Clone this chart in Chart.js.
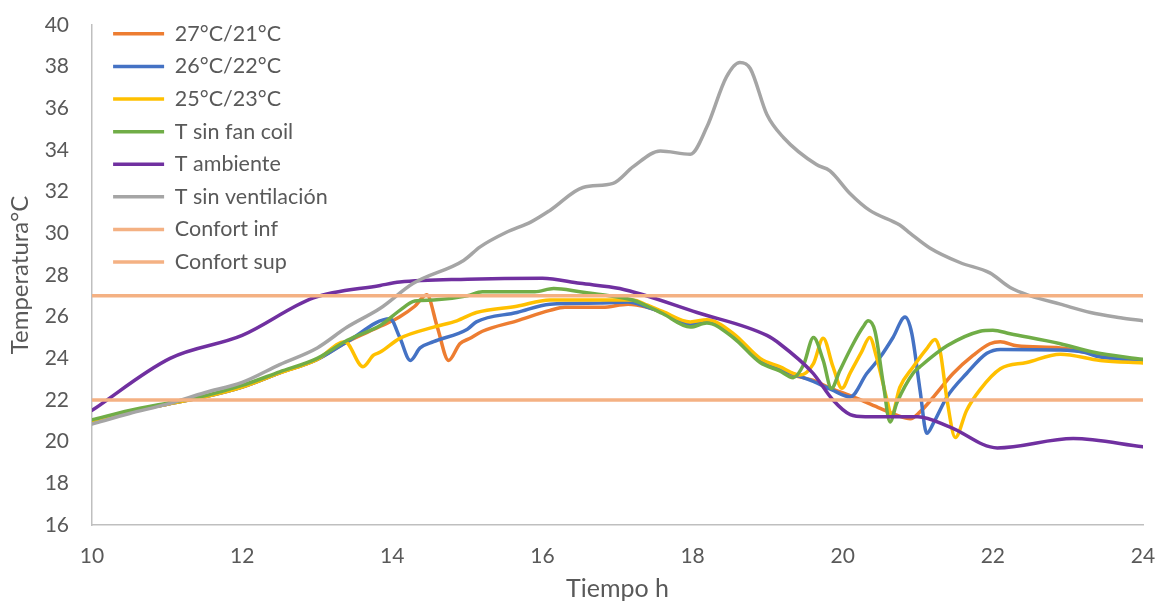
<!DOCTYPE html>
<html lang="es">
<head>
<meta charset="UTF-8" />
<title>Temperatura vs tiempo</title>
<script src="https://cdn.jsdelivr.net/npm/chart.js"></script>
<style>
  body { margin: 0; background: #fff; }
  #wrap { width: 1158px; height: 601px; }
</style>
</head>
<body>
<div id="wrap"><canvas id="tempChart" width="1158" height="601"></canvas></div>

<script>
  // Datos (hora, temperatura)
  const t2721 = [10, 10.5, 11, 11.5, 12, 12.5, 13, 13.4, 13.85, 14.1, 14.3, 14.46, 14.6, 14.75, 14.9, 15.03, 15.2, 15.66, 16.1, 16.3, 16.8, 17.14, 17.4, 17.6, 17.97, 18.19, 18.54, 18.9, 19.34, 19.6, 19.85, 20.14, 20.5, 20.72, 20.9, 21.03, 21.21, 21.47, 21.74, 21.96, 22.1, 22.32, 22.9, 23.43, 24];
  const v2721 = [21.0, 21.45, 21.8, 22.15, 22.62, 23.3, 23.95, 24.8, 25.55, 26.0, 26.5, 27.05, 25.5, 23.9, 24.7, 24.95, 25.3, 25.8, 26.3, 26.45, 26.45, 26.6, 26.45, 26.2, 25.6, 25.75, 25.1, 23.9, 23.2, 22.95, 22.55, 22.15, 21.6, 21.27, 21.1, 21.43, 22.15, 23.27, 24.15, 24.7, 24.8, 24.6, 24.5, 24.15, 23.9];

  const t2622 = [10, 10.5, 11, 11.5, 12, 12.5, 13, 13.4, 13.97, 14.1, 14.24, 14.37, 14.55, 15.0, 15.12, 15.66, 16.1, 16.77, 17.14, 17.4, 17.6, 17.97, 18.19, 18.54, 18.9, 19.34, 19.6, 19.85, 20.1, 20.32, 20.5, 20.67, 20.83, 20.92, 21.03, 21.12, 21.21, 21.39, 21.65, 21.92, 22.1, 22.9, 23.2, 23.43, 24];
  const v2622 = [21.0, 21.45, 21.8, 22.15, 22.62, 23.3, 23.95, 24.8, 25.9, 25.0, 23.9, 24.5, 24.8, 25.4, 25.75, 26.2, 26.6, 26.65, 26.7, 26.45, 26.2, 25.6, 25.75, 25.1, 23.9, 23.25, 22.9, 22.5, 22.15, 23.27, 24.06, 25.0, 25.98, 25.2, 22.47, 20.4, 20.9, 22.15, 23.27, 24.24, 24.43, 24.4, 24.3, 24.06, 23.9];

  const t2523 = [10, 10.5, 11, 11.5, 12, 12.5, 13, 13.37, 13.61, 13.75, 13.84, 14.1, 14.55, 14.86, 15.12, 15.66, 16.1, 16.77, 17.2, 17.4, 17.6, 17.97, 18.19, 18.54, 18.9, 19.16, 19.43, 19.61, 19.74, 19.87, 19.99, 20.1, 20.25, 20.36, 20.45, 20.59, 20.65, 20.76, 20.94, 21.12, 21.23, 21.3, 21.39, 21.5, 21.65, 21.83, 22.1, 22.45, 22.9, 23.43, 24];
  const v2523 = [21.0, 21.45, 21.8, 22.15, 22.62, 23.3, 23.95, 24.8, 23.6, 24.15, 24.3, 24.96, 25.5, 25.8, 26.2, 26.5, 26.8, 26.8, 26.8, 26.55, 26.25, 25.75, 25.85, 25.2, 24.0, 23.6, 23.2, 23.75, 24.96, 23.6, 22.56, 23.3, 24.3, 25.0, 24.06, 22.0, 21.27, 22.6, 23.6, 24.47, 24.9, 24.3, 22.0, 20.2, 21.5, 22.5, 23.5, 23.8, 24.2, 23.9, 23.78];

  const tSinFan = [10, 10.5, 11, 11.5, 12, 12.5, 13, 13.4, 13.85, 14.1, 14.3, 14.55, 15.0, 15.2, 15.9, 16.15, 16.5, 16.8, 17.2, 17.4, 17.6, 17.97, 18.19, 18.54, 18.9, 19.16, 19.34, 19.48, 19.61, 19.74, 19.85, 19.96, 20.14, 20.27, 20.34, 20.43, 20.54, 20.63, 20.72, 20.94, 21.03, 21.39, 21.83, 22.0, 22.23, 22.9, 23.33, 24];
  const vSinFan = [21.05, 21.5, 21.85, 22.2, 22.7, 23.35, 24.0, 24.87, 25.6, 26.3, 26.75, 26.8, 27.0, 27.2, 27.2, 27.35, 27.2, 27.05, 26.8, 26.5, 26.15, 25.5, 25.7, 25.0, 23.8, 23.4, 23.07, 23.7, 25.0, 23.9, 22.56, 23.4, 24.7, 25.5, 25.8, 25.3, 22.8, 20.95, 21.85, 23.3, 23.6, 24.6, 25.3, 25.35, 25.18, 24.7, 24.3, 23.95];

  const tAmb = [10, 11.04, 12.0, 12.95, 13.84, 14.1, 15.0, 16.0, 16.5, 17.03, 18.06, 18.99, 19.16, 19.6, 19.87, 20.1, 20.3, 21.0, 21.43, 22.06, 23.07, 24];
  const vAmb = [21.5, 24.0, 25.1, 26.9, 27.5, 27.66, 27.8, 27.85, 27.6, 27.35, 26.2, 25.1, 24.7, 23.3, 22.0, 21.3, 21.2, 21.2, 20.7, 19.7, 20.15, 19.75];

  const tSinVent = [10, 10.5, 11, 11.5, 12, 12.5, 13, 13.4, 13.84, 14.28, 14.95, 15.17, 15.52, 15.85, 16.1, 16.54, 16.94, 17.21, 17.57, 17.97, 18.19, 18.45, 18.63, 18.77, 18.99, 19.21, 19.65, 19.83, 20.1, 20.36, 20.76, 20.9, 21.16, 21.56, 21.96, 22.23, 22.5, 22.9, 23.3, 23.7, 24];
  const vSinVent = [20.85, 21.35, 21.8, 22.35, 22.85, 23.7, 24.5, 25.5, 26.4, 27.6, 28.7, 29.35, 30.05, 30.55, 31.1, 32.2, 32.4, 33.2, 33.95, 33.8, 35.1, 37.5, 38.2, 37.9, 35.7, 34.6, 33.3, 33.0, 31.9, 31.1, 30.4, 30.0, 29.3, 28.6, 28.1, 27.4, 27.0, 26.6, 26.2, 25.95, 25.8];

  const tConfort = [10, 24];
  const vConfortInf = [22, 22];
  const vConfortSup = [27, 27];

  const xTicks = { min: 10, max: 24, step: 2 };
  const yTicks = { min: 16, max: 40, step: 2 };

  const textColor = "#595959";
  const fontFamily = "Lato, 'Open Sans', sans-serif";

  function pts(t, v) {
    return t.map((x, i) => ({ x: x, y: v[i] }));
  }

  function serie(label, t, v, color, order) {
    return {
      label: label,
      data: pts(t, v),
      borderColor: color,
      backgroundColor: color,
      pointBorderColor: color,
      pointBorderWidth: 3.5,
      borderWidth: 3.5,
      pointRadius: 0,
      pointHoverRadius: 0,
      cubicInterpolationMode: "monotone",
      borderCapStyle: "round",
      borderJoinStyle: "round",
      order: order
    };
  }

  // leyenda dentro del area del grafico, arriba a la izquierda
  const legendInside = {
    id: "legendInside",
    afterLayout(chart) {
      chart.legend.left = 102;
      chart.legend.top = 12;
    }
  };

  new Chart(document.getElementById("tempChart").getContext("2d"), {
    type: "line",
    data: {
      datasets: [
        serie("27°C/21°C", t2721, v2721, "#ED7D31", 8),
        serie("26°C/22°C", t2622, v2622, "#4472C4", 7),
        serie("25°C/23°C", t2523, v2523, "#FFC000", 6),
        serie("T sin fan coil", tSinFan, vSinFan, "#70AD47", 5),
        serie("T ambiente", tAmb, vAmb, "#7030A0", 4),
        serie("T sin ventilación", tSinVent, vSinVent, "#A5A5A5", 3),
        serie("Confort inf", tConfort, vConfortInf, "#F4B183", 2),
        serie("Confort sup", tConfort, vConfortSup, "#F4B183", 1)
      ]
    },
    options: {
      responsive: false,
      animation: false,
      layout: { padding: { left: 0, right: 15, top: 25, bottom: 0 } },
      plugins: {
        tooltip: { enabled: false },
        legend: {
          position: "chartArea",
          align: "start",
          reverse: true,
          labels: {
            usePointStyle: true,
            pointStyle: "line",
            pointStyleWidth: 51,
            padding: 11.1,
            color: textColor,
            font: { family: fontFamily, size: 21.5 }
          }
        }
      },
      scales: {
        x: {
          type: "linear",
          min: xTicks.min,
          max: xTicks.max,
          grid: { display: false, drawTicks: false },
          border: { color: "#BFBFBF", width: 1.5 },
          ticks: {
            stepSize: xTicks.step,
            padding: 19,
            color: textColor,
            font: { family: fontFamily, size: 21 }
          },
          title: {
            display: true,
            text: "Tiempo h",
            color: textColor,
            font: { family: fontFamily, size: 25, lineHeight: 1 },
            padding: { top: 0, bottom: 0 }
          },
          afterFit(scale) {
            scale.height = 76;
            scale.paddingLeft = 0;
            scale.paddingRight = 0;
          }
        },
        y: {
          min: yTicks.min,
          max: yTicks.max,
          grid: { display: false, drawTicks: false },
          border: { color: "#BFBFBF", width: 1.5 },
          ticks: {
            stepSize: yTicks.step,
            padding: 23,
            color: textColor,
            font: { family: fontFamily, size: 21 }
          },
          title: {
            display: true,
            text: "Temperatura°C",
            color: textColor,
            font: { family: fontFamily, size: 24, lineHeight: 1 },
            padding: { top: 8, bottom: 0 }
          },
          afterFit(scale) {
            scale.width = 92;
            scale.paddingTop = 0;
            scale.paddingBottom = 0;
          }
        }
      }
    },
    plugins: [legendInside]
  });
</script>
</body>
</html>
